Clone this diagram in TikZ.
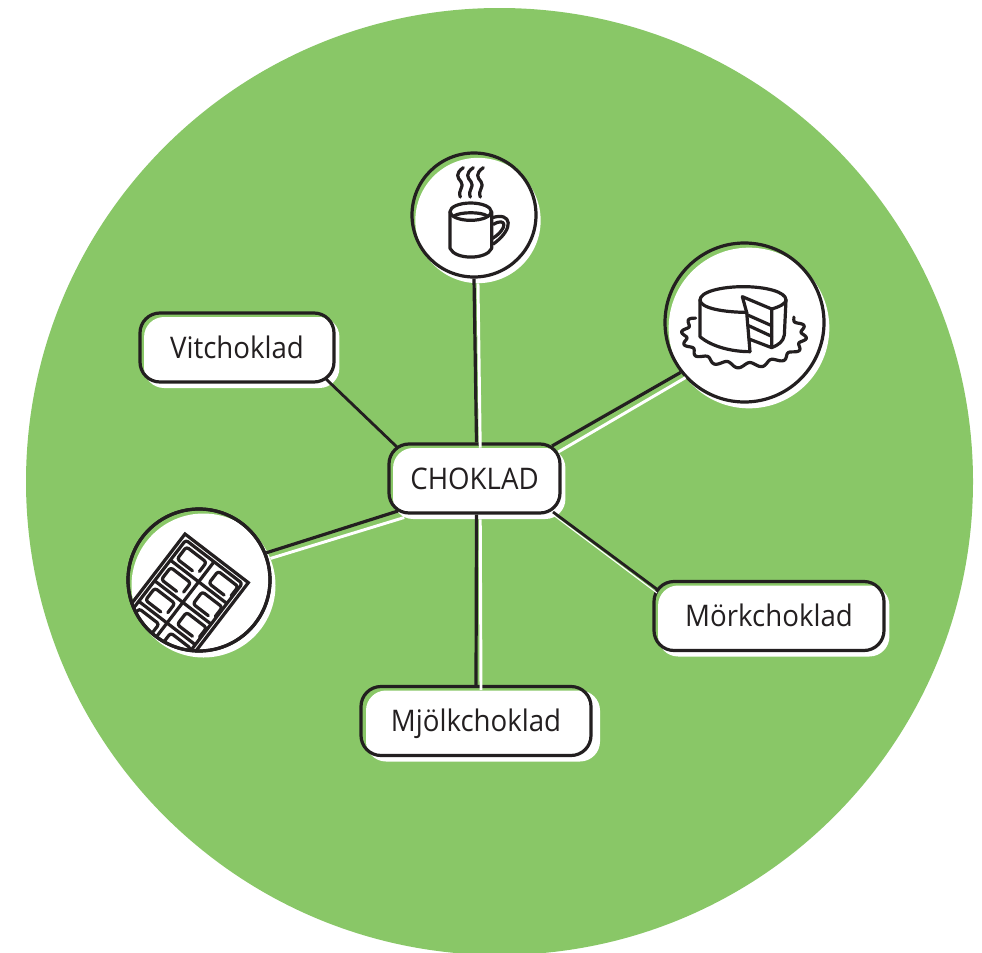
\documentclass[tikz,border=0pt]{standalone}
\usepackage{fontspec}
\setmainfont[FakeStretch=0.93]{Open Sans}
\definecolor{leaf}{HTML}{89C767}
\definecolor{ink}{HTML}{231F20}
\tikzset{
  boxbase/.style={rectangle,rounded corners=15pt,minimum height=51.75pt,inner sep=0pt},
  labelbox/.style={boxbase,draw=ink,line width=2.4pt,text=ink,text height=20pt,text depth=3.8pt,font=\fontsize{22.3}{25}\selectfont},
  boxshade/.style={boxbase,fill=white,minimum height=53.25pt},
  roundbase/.style={circle,inner sep=0pt},
  roundbox/.style={roundbase,draw=ink,line width=2.4pt},
  roundshade/.style={roundbase,fill=white},
  link/.style={draw=ink,line width=2.4pt},
  linkshade/.style={draw=white,line width=2.2pt},
  icon/.style={draw=ink,line width=2.4pt,line join=round,line cap=round},
  thinlink/.style={draw=ink,line width=2.1pt},
}
\begin{document}
\begin{tikzpicture}[x=0.75pt,y=-0.75pt]
\useasboundingbox (0,0) rectangle (982,953);
\clip (0,0) rectangle (982,953);
\fill[leaf] (499.5,481.5) circle (473.5);
% shadows
\node[boxshade,minimum width=129.25pt] (cs) at (479.25,483.5) {};
\node[boxshade,minimum width=146.5pt] (vs) at (241.75,352.5) {};
\node[boxshade,minimum width=173.5pt] (ms) at (773.75,621) {};
\node[boxshade,minimum width=175.5pt] (js) at (483,726) {};
\node[roundshade,minimum size=94pt] (kaffes) at (478,220.5) {};
\node[roundshade,minimum size=120.5pt] (tartas) at (749,328) {};
\node[roundshade,minimum size=108pt] (kakas) at (203.5,585.5) {};
% named nodes
\node[labelbox,minimum width=128.25pt] (choklad) at (474.5,478.5) {CHOKLAD};
\node[labelbox,minimum width=145.5pt] (vit) at (237,347.5) {Vitchoklad};
\node[labelbox,minimum width=172.5pt] (mork) at (769,616) {Mörkchoklad};
\node[labelbox,minimum width=172.5pt] (mjolk) at (476,721) {Mjölkchoklad};
\node[roundbox,minimum size=93pt] (kaffe) at (474,215) {};
\node[roundbox,minimum size=119.25pt] (tarta) at (744.5,322.5) {};
\node[roundbox,minimum size=106.5pt] (kaka) at (199,580) {};
% white connector shadows
\draw[linkshade] (kaffes.south) -- ([xshift=0.75pt]cs.north);
\draw[linkshade] ([xshift=0.75pt]cs.south) -- ([xshift=-1.5pt]js.north);
\draw[linkshade] (tartas.218.8) -- ([shift={(79,-31.5)}]cs.center);
\draw[linkshade] (kakas.22.8) -- ([shift={(-75,34)}]cs.center);
\draw[draw=white,line width=0.8pt] ([shift={(78,36)}]choklad.center) -- ([shift={(-112,-23)}]mork.center);
% connectors
\draw[link] (kaffe.south) -- ([xshift=1.5pt]choklad.north);
\draw[link] ([xshift=1.5pt]choklad.south) -- (mjolk.north);
\draw[link] (tarta.218.8) -- ([shift={(77.5,-32.5)}]choklad.center);
\draw[link] (kaka.22.8) -- ([shift={(-76.5,32.5)}]choklad.center);
\draw[thinlink] ([shift={(-76.5,-30.5)}]choklad.center) -- ([shift={(89,31.5)}]vit.center);
\draw[thinlink] ([shift={(78.5,33.5)}]choklad.center) -- ([shift={(-111,-26)}]mork.center);
% coffee icon
\begin{scope}[shift={(400,145)},x=0.25pt,y=-0.25pt]
  \draw[icon] (212,200) ellipse (62 and 26);
  \draw[icon] (162,213) .. controls (180,200) and (245,200) .. (262,213);
  \draw[icon] (150,200) -- (150,310) .. controls (165,345) and (260,345) .. (275,310) -- (275,200);
  \draw[icon] (277,218) .. controls (335,200) and (345,250) .. (280,297);
  \draw[icon] (280,238) .. controls (320,215) and (325,250) .. (278,280);
  \foreach \dx in {0,30,60}{
    \draw[icon,xshift=\dx*0.25pt] (190,68) .. controls (165,85) and (172,98) .. (183,110) .. controls (195,125) and (172,135) .. (181,156);
  }
\end{scope}
% cake icon
\begin{scope}[shift={(655,235)},x=0.25pt,y=-0.25pt]
  \draw[icon] plot[smooth,samples=170,domain=-35:215,variable=\t]
    ({267+(180+8*sin(16*\t))*cos(\t)},{300+(91+8*sin(16*\t))*sin(\t)});
  \fill[white] (135,195) -- (135,305) .. controls (170,335) and (230,350) .. (285,350) -- (350,338) .. controls (375,330) and (388,315) .. (388,300) -- (393,195) -- (260,150) -- cycle;
  \draw[icon] (275,232) .. controls (210,232) and (135,220) .. (135,195) .. controls (135,170) and (200,155) .. (265,155) .. controls (330,155) and (393,170) .. (393,195) .. controls (393,205) and (375,215) .. (350,222);
  \draw[icon] (275,232) -- (262,185) -- (350,222) -- (350,338);
  \draw[icon] (275,232) -- (285,350);
  \draw[icon] (135,195) -- (135,305) .. controls (170,335) and (230,350) .. (285,350);
  \draw[icon] (393,195) -- (388,300) .. controls (385,320) and (370,330) .. (350,338);
  \draw[icon] (282,312) -- (350,338);
  \draw[icon] (278,240) -- (350,272);
  \draw[icon] (281,272) -- (350,304);
\end{scope}
% chocolate icon
\begin{scope}
  \clip (199,580) circle (70);
  \begin{scope}[shift={(185,534)},x={(0.198pt,-0.152pt)},y={(-0.152pt,-0.198pt)}]
    \draw[icon,line cap=butt,line join=miter] (0,420) -- (0,0) -- (240,0) -- (240,420);
    \draw[icon,rounded corners=2pt] (13,420) -- (13,13) -- (227,13) -- (227,420);
    \draw[icon,line cap=butt] (120,13) -- (120,420);
    \foreach \v in {89,167,245,323,401}{
      \draw[icon,line cap=butt] (13,\v) -- (227,\v);
    }
    \foreach \u in {0,120}{
      \foreach \v in {11,89,167,245,323}{
        \draw[icon,rounded corners=2pt] (\u+103,\v+52) -- (\u+103,\v+17) -- (\u+27,\v+17) -- (\u+27,\v+63) -- (\u+85,\v+63);
      }
    }
  \end{scope}
\end{scope}
\node[roundbox,minimum size=106.5pt] at (199,580) {};
\end{tikzpicture}
\end{document}
